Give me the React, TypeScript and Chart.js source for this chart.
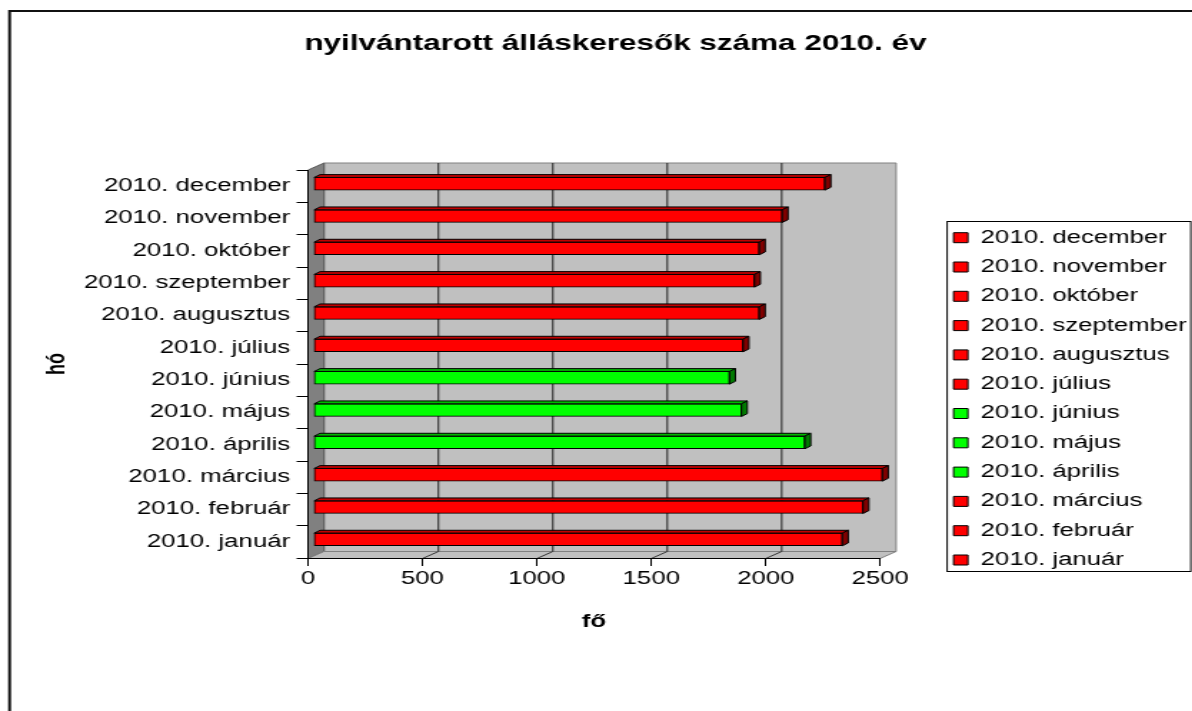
import React, { useEffect, useRef } from 'react';
import { Chart, registerables } from 'chart.js';

Chart.register(...registerables);

// ---- data ----
const months = [
  '2010. január',
  '2010. február',
  '2010. március',
  '2010. április',
  '2010. május',
  '2010. június',
  '2010. július',
  '2010. augusztus',
  '2010. szeptember',
  '2010. október',
  '2010. november',
  '2010. december',
];
const values = [2311, 2401, 2486, 2147, 1870, 1818, 1877, 1948, 1927, 1948, 2048, 2235];
const greenMonths = ['2010. április', '2010. május', '2010. június'];
const xTickValues = [0, 500, 1000, 1500, 2000, 2500];
const chartTitle = 'nyilvántarott álláskeresők száma 2010. év';
const xAxisTitle = 'fő';
const yAxisTitle = 'hó';

// ---- layout / style ----
const STRETCH = 1192 / 834;
const CW = 864;
const CH = 711;
const FONT = "'Liberation Sans', Arial, Helvetica, sans-serif";
const WALL_DX = 11.2;
const WALL_DY = -7;
const BAR_OFF_X = 3.85;
const BAR_OFF_Y = -2.4;
const BAR_DX = 4.1;
const BAR_DY = -2.8;

const isGreen = (m: string) => greenMonths.includes(m);
const faceColor = months.map((m) => (isGreen(m) ? '#00FF00' : '#FF0000'));
const topColor = months.map((m) => (isGreen(m) ? '#00B800' : '#C00000'));
const sideColor = months.map((m) => (isGreen(m) ? '#007A00' : '#800000'));

function poly(ctx: CanvasRenderingContext2D, pts: number[][], fill?: string, stroke?: string, lw = 1) {
  ctx.beginPath();
  ctx.moveTo(pts[0][0], pts[0][1]);
  for (let i = 1; i < pts.length; i++) ctx.lineTo(pts[i][0], pts[i][1]);
  ctx.closePath();
  if (fill) {
    ctx.fillStyle = fill;
    ctx.fill();
  }
  if (stroke) {
    ctx.strokeStyle = stroke;
    ctx.lineWidth = lw;
    ctx.stroke();
  }
}

function seg(ctx: CanvasRenderingContext2D, x1: number, y1: number, x2: number, y2: number, color: string, lw = 1) {
  ctx.beginPath();
  ctx.moveTo(x1, y1);
  ctx.lineTo(x2, y2);
  ctx.strokeStyle = color;
  ctx.lineWidth = lw;
  ctx.stroke();
}

const excel3d = {
  id: 'excel3d',
  beforeDraw(chart: any) {
    const { ctx, chartArea } = chart;
    const x = chart.scales.x;
    const T = chartArea.top;
    const B = Math.round(chartArea.bottom) + 0.5;
    const L = x.getPixelForValue(xTickValues[0]);
    const R = x.getPixelForValue(xTickValues[xTickValues.length - 1]);
    ctx.save();
    ctx.fillStyle = '#ffffff';
    ctx.fillRect(0, 0, chart.width, chart.height);
    // back wall
    poly(ctx, [[L + WALL_DX, T + WALL_DY], [R + WALL_DX, T + WALL_DY], [R + WALL_DX, B + WALL_DY], [L + WALL_DX, B + WALL_DY]], '#C0C0C0', '#808080');
    // left wall
    poly(ctx, [[L, T], [L + WALL_DX, T + WALL_DY], [L + WALL_DX, B + WALL_DY], [L, B]], '#808080', '#5a5a5a');
    // floor
    poly(ctx, [[L, B], [L + WALL_DX, B + WALL_DY], [R + WALL_DX, B + WALL_DY], [R, B]], '#C0C0C0', '#808080');
    // gridlines on back wall and floor
    xTickValues.slice(1, -1).forEach((v) => {
      const px = x.getPixelForValue(v);
      seg(ctx, px + WALL_DX, T + WALL_DY, px + WALL_DX, B + WALL_DY, '#222');
      seg(ctx, px, B, px + WALL_DX, B + WALL_DY, '#333');
    });
    // front edge of floor (value axis line)
    seg(ctx, L, B, R, B, '#000');
    ctx.restore();
  },
  beforeDatasetDraw(chart: any) {
    chart.ctx.save();
    chart.ctx.translate(BAR_OFF_X, BAR_OFF_Y);
  },
  afterDatasetDraw(chart: any, args: any) {
    const { ctx } = chart;
    const meta = args.meta;
    meta.data.forEach((bar: any, i: number) => {
      const p = bar.getProps(['x', 'y', 'base', 'height'], true);
      const top = p.y - p.height / 2;
      const bot = p.y + p.height / 2;
      poly(ctx, [[p.base, top], [p.base + BAR_DX, top + BAR_DY], [p.x + BAR_DX, top + BAR_DY], [p.x, top]], topColor[i], '#000');
      poly(ctx, [[p.x, top], [p.x + BAR_DX, top + BAR_DY], [p.x + BAR_DX, bot + BAR_DY], [p.x, bot]], sideColor[i], '#000');
    });
    ctx.restore();
  },
  afterDraw(chart: any) {
    const { ctx } = chart;
    const lg = chart.legend;
    ctx.save();
    if (lg && lg.legendHitBoxes && lg.legendHitBoxes.length) {
      const hb = lg.legendHitBoxes;
      const left = hb[0].left - 4.5;
      const top = Math.round(hb[0].top - 7.7) + 0.5;
      const right = lg.right - 7.1;
      const bottom = Math.round(hb[hb.length - 1].top + 20) + 0.5;
      ctx.strokeStyle = '#000';
      ctx.lineWidth = 1;
      ctx.strokeRect(left, top, right - left, bottom - top);
    }
    ctx.strokeStyle = '#111';
    ctx.lineWidth = 2;
    ctx.strokeRect(10 / STRETCH - 0.3, 11, CW + 40, CH + 40);
    ctx.restore();
  },
};

export default function App() {
  const canvasRef = useRef<HTMLCanvasElement | null>(null);

  useEffect(() => {
    const canvas = canvasRef.current;
    if (!canvas) return;
    Chart.defaults.font.family = FONT;
    Chart.defaults.color = '#000';
    const chart = new Chart(canvas, {
      type: 'bar',
      data: {
        labels: months,
        datasets: [
          {
            data: values,
            backgroundColor: faceColor,
            borderColor: '#000',
            borderWidth: 1,
            borderSkipped: false,
            barThickness: 12.7,
            clip: false as any,
          },
        ],
      },
      options: {
        indexAxis: 'y',
        animation: false,
        responsive: false,
        maintainAspectRatio: false,
        devicePixelRatio: 1,
        events: [],
        layout: { padding: { left: 21, right: 23.8, top: 0, bottom: 0 } },
        scales: {
          x: {
            type: 'linear',
            position: 'bottom',
            min: 0,
            max: 2500,
            afterBuildTicks: (scale: any) => {
              scale.ticks = xTickValues.map((v) => ({ value: v }));
            },
            ticks: {
              color: '#000',
              padding: 2,
              font: { family: FONT, size: 18 },
              callback: (v: any) => String(v),
            },
            grid: { drawOnChartArea: false, drawTicks: true, tickLength: 8, color: '#000', lineWidth: 1 },
            border: { display: false },
            title: {
              display: true,
              text: xAxisTitle,
              color: '#000',
              font: { family: FONT, size: 18, weight: 'bold' },
              padding: { top: 19.6, bottom: 78.2 },
            },
          },
          y: {
            type: 'category',
            position: 'left',
            reverse: true,
            offset: true,
            ticks: { color: '#000', padding: 4.6, font: { family: FONT, size: 18 } },
            grid: { drawOnChartArea: false, drawTicks: true, tickLength: 8, color: '#000', lineWidth: 1, offset: true },
            border: { display: true, color: '#000', width: 1 },
            title: {
              display: true,
              text: yAxisTitle,
              color: '#000',
              font: { family: FONT, size: 18, weight: 'bold' },
              padding: { top: 8.6, bottom: 7.6 },
            },
            afterFit: (scale: any) => {
              scale.width = 194.5;
            },
          },
          gap: {
            type: 'linear',
            position: 'right',
            display: false,
            afterFit: (scale: any) => {
              scale.width = 40.1;
            },
          },
        },
        plugins: {
          title: {
            display: true,
            text: chartTitle,
            color: '#000',
            font: { family: FONT, size: 22, weight: 'bold' },
            padding: { top: 31.2, bottom: 112.4 },
          },
          legend: {
            display: true,
            position: 'right',
            align: 'start',
            title: { display: true, text: '', font: { size: 10 }, padding: { top: 205.4, bottom: 0 } },
            labels: {
              boxWidth: 10,
              boxHeight: 10,
              padding: 11.3,
              color: '#000',
              font: { family: FONT, size: 18 },
              generateLabels: () =>
                months
                  .map((m, i) => ({
                    text: m,
                    fillStyle: faceColor[i],
                    strokeStyle: '#000',
                    lineWidth: 1,
                    hidden: false,
                    index: i,
                    datasetIndex: 0,
                  }))
                  .reverse(),
            },
          },
          tooltip: { enabled: false },
        },
      } as any,
      plugins: [excel3d],
    });
    return () => chart.destroy();
  }, []);

  return (
    <div style={{ position: 'absolute', left: 0, top: 0, width: 1192, height: 711, overflow: 'hidden', background: '#fff' }}>
      <canvas
        ref={canvasRef}
        width={CW}
        height={CH}
        style={{ width: `${CW * STRETCH}px`, height: `${CH}px`, display: 'block' }}
      />
    </div>
  );
}
